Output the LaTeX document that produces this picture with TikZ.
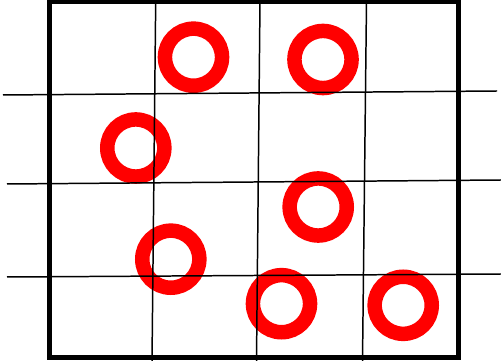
\documentclass[tikz,border=0pt]{standalone}
\usepackage{amsfonts, amsmath, amssymb}
\usepackage{tikz}

\begin{document}
\begin{tikzpicture}[scale=1, >=stealth,
    ring/.style={draw=red, line width=2.9mm},
    gridline/.style={line width=0.85pt}]
    \useasboundingbox (0,0) rectangle (10.02, 7.22);

    % Red rings (drawn first, lines go over them)
    \newcommand{\redring}[1]{
        \draw[ring] #1 circle (0.571);
    }

    \redring{(3.87, 6.076)}
    \redring{(6.46, 6.03)}
    \redring{(2.716, 4.26)}
    \redring{(6.364, 3.08)}
    \redring{(3.416, 2.036)}
    \redring{(5.63, 1.146)}
    \redring{(8.064, 1.114)}

    % Vertical lines (slightly slanted)
    \draw[gridline] (3.114, 7.19) -- (3.04, 0);
    \draw[gridline] (5.2, 7.19) -- (5.13, 0);
    \draw[gridline] (7.33, 7.19) -- (7.25, 0);

    % Horizontal lines, running past the box
    \draw[gridline] (0.06, 5.32) -- (9.94, 5.40);
    \draw[gridline] (0.14, 3.54) -- (10.02, 3.62);
    \draw[gridline] (0.14, 1.68) -- (10.02, 1.74);

    % Main Boundary Box (Black)
    \draw[line width=2.3pt] (0.99, 0.07) rectangle (9.17, 7.19);
\end{tikzpicture}
\end{document}
